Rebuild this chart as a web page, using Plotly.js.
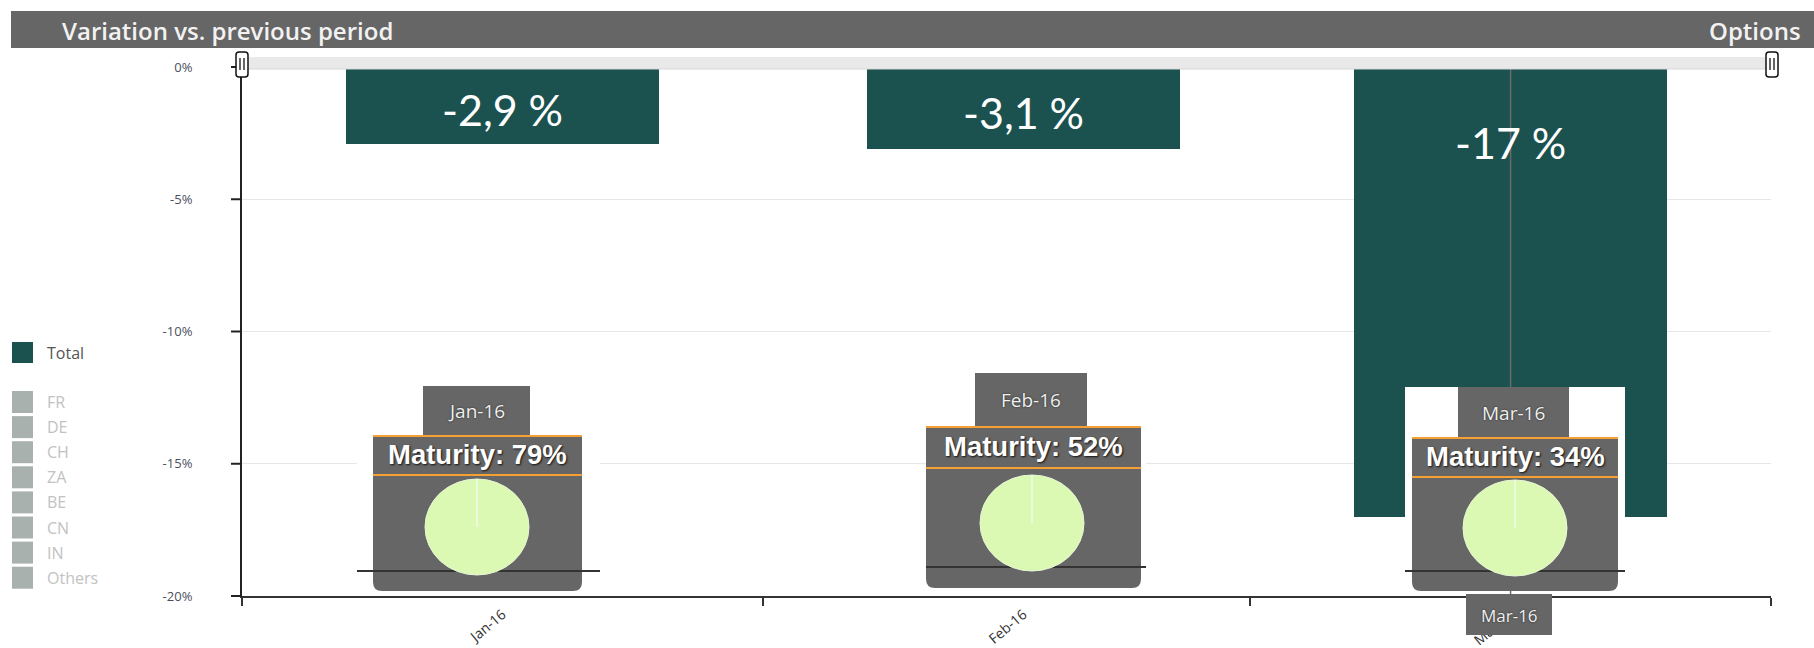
<!DOCTYPE html>
<html>
<head>
<meta charset="utf-8">
<script src="https://cdn.plot.ly/plotly-3.0.1.min.js"></script>
<style>
  html, body { margin: 0; padding: 0; background: #fff; }
  #chart { width: 1814px; height: 648px; }
</style>
</head>
<body>
<div id="chart"></div>
<script>
// chart values
var months = ['Jan-16', 'Feb-16', 'Mar-16'];
var pointDates = ['2016-01-16 12:00', '2016-02-16 12:00', '2016-03-16 12:00'];
var variation = [-2.9, -3.1, -17];
var maturity = [79, 52, 34];
var totalName = 'Total';
var countries = ['FR', 'DE', 'CH', 'ZA', 'BE', 'CN', 'IN', 'Others'];
var yTicks = [0, -5, -10, -15, -20];
var yTickText = ['0%', '-5%', '-10%', '-15%', '-20%'];
var monthStarts = ['2016-01-01', '2016-02-01', '2016-03-01', '2016-04-01'];

var DAY = 86400000;
var yRange = [-20, 0];
var teal = '#1b524f';
var gray = '#666666';
var orange = '#f5a032';

// plot box in pixels
var L = 242, T = 67, W = 1529, H = 529;
function px(x) { return (x - L) / W; }
function py(y) { return (T + H - y) / H; }
function P(x, y) { return px(x).toFixed(5) + ',' + py(y).toFixed(5); }

function rect(x0, y0, x1, y1, fill) {
    return {type: 'rect', xref: 'paper', yref: 'paper', layer: 'above',
        x0: px(x0), x1: px(x1), y0: py(y1), y1: py(y0),
        fillcolor: fill, line: {width: 0}};
}
function hline(x0, x1, y, color, w) {
    return {type: 'line', xref: 'paper', yref: 'paper', layer: 'above',
        x0: px(x0), x1: px(x1), y0: py(y), y1: py(y), line: {color: color, width: w}};
}
function vline(x, y0, y1, color, w) {
    return {type: 'line', xref: 'paper', yref: 'paper', layer: 'above',
        x0: px(x), x1: px(x), y0: py(y0), y1: py(y1), line: {color: color, width: w}};
}
// box with rounded corners (top radius rt, bottom radius rb)
function roundBox(x0, y0, x1, y1, rt, rb, fill, line) {
    var d = 'M' + P(x0 + rt, y0) + ' L' + P(x1 - rt, y0) +
        (rt ? ' Q' + P(x1, y0) + ' ' + P(x1, y0 + rt) : '') +
        ' L' + P(x1, y1 - rb) + ' Q' + P(x1, y1) + ' ' + P(x1 - rb, y1) +
        ' L' + P(x0 + rb, y1) + ' Q' + P(x0, y1) + ' ' + P(x0, y1 - rb) +
        ' L' + P(x0, y0 + rt) + (rt ? ' Q' + P(x0, y0) + ' ' + P(x0 + rt, y0) : '') + ' Z';
    return {type: 'path', xref: 'paper', yref: 'paper', layer: 'above', path: d,
        fillcolor: fill, line: line || {width: 0}};
}
function text(x, y, str, font, xanchor) {
    return {xref: 'paper', yref: 'paper', x: px(x), y: py(y), text: str, showarrow: false,
        xanchor: xanchor || 'center', yanchor: 'middle', font: font};
}

var shapes = [];
var annotations = [];

// y tick marks (left of the axis line)
yTicks.forEach(function (v) {
    var f = (v - yRange[0]) / (yRange[1] - yRange[0]);
    var yPix = T + H - f * H;
    shapes.push(hline(231, 242, yPix, '#222', 2));
});

// hover crosshair on March
shapes.push({type: 'line', xref: 'x', yref: 'paper', layer: 'above',
    x0: pointDates[2], x1: pointDates[2], y0: py(69), y1: py(600),
    line: {color: '#6a6a6a', width: 1.5}});

// navigator band and handles
shapes.push(rect(242, 57, 1771, 69, '#e9e9e9'));
shapes.push(hline(242, 1771, 69, '#d6d6d6', 1));
[242, 1772].forEach(function (hx) {
    shapes.push(roundBox(hx - 6, 52, hx + 6, 77, 3, 3, '#ffffff', {color: '#111', width: 1.5}));
    shapes.push(vline(hx - 2, 58, 70, '#111', 1.3));
    shapes.push(vline(hx + 2, 58, 70, '#111', 1.3));
});

// header bar
shapes.push(rect(11, 11, 1814, 48, gray));
annotations.push(text(60, 30, 'Variation vs. previous period',
    {family: 'Open Sans', size: 24, color: '#f2f2f2', weight: 600}, 'left'));
annotations.push(text(1803, 30, 'Options',
    {family: 'Open Sans', size: 24, color: '#f2f2f2', weight: 600}, 'right'));

// legend
shapes.push(rect(12, 342, 33, 363, teal));
annotations.push(text(45, 353, totalName, {family: 'Open Sans', size: 16, color: '#555'}, 'left'));
countries.forEach(function (c, i) {
    var top = 391 + i * 25.1;
    shapes.push(rect(12, top, 33, top + 22, '#a9b1af'));
    annotations.push(text(45, top + 11, c, {family: 'Open Sans', size: 16, color: '#c2c2c2'}, 'left'));
});

// tooltips
var tips = [
    {wx0: 357, wx1: 600, top: 386, tab0: 423, tab1: 530, box0: 373, box1: 582, boxTop: 436, sep: 475, bottom: 591, lineY: 571, cx: 477, cy: 527},
    {wx0: 926, wx1: 1146, top: 373, tab0: 975, tab1: 1087, box0: 926, box1: 1141, boxTop: 427, sep: 468, bottom: 588, lineY: 567, cx: 1032, cy: 523},
    {wx0: 1405, wx1: 1625, top: 387, tab0: 1458, tab1: 1569, box0: 1412, box1: 1618, boxTop: 438, sep: 477, bottom: 591, lineY: 571, cx: 1515, cy: 528}
];
var rx = 52, ry = 48;
tips.forEach(function (t, i) {
    shapes.push(rect(t.wx0, t.top, t.wx1, t.lineY, '#ffffff'));
    shapes.push(rect(t.tab0, t.top, t.tab1, t.boxTop, gray));
    shapes.push(roundBox(t.box0, t.boxTop, t.box1, t.bottom, 0, 9, gray));
    shapes.push(hline(t.wx0, t.wx1, t.lineY, '#333', 2));
    shapes.push({type: 'circle', xref: 'paper', yref: 'paper', layer: 'above',
        x0: px(t.cx - rx), x1: px(t.cx + rx), y0: py(t.cy + ry), y1: py(t.cy - ry),
        fillcolor: '#dcf9b4', line: {color: '#e6f7d6', width: 1}});
    shapes.push(vline(t.cx, t.cy, t.cy - ry, '#f2fbe9', 1.5));
    shapes.push(hline(t.box0, t.box1, t.boxTop, orange, 2));
    shapes.push(hline(t.box0, t.box1, t.sep, orange, 2));
    annotations.push(text((t.tab0 + t.tab1) / 2, (t.top + t.boxTop) / 2, months[i],
        {family: 'Open Sans', size: 19, color: '#f0f0f0', shadow: '0px 0px 2px #222'}));
    annotations.push(text((t.box0 + t.box1) / 2, (t.boxTop + t.sep) / 2 - 1, 'Maturity: ' + maturity[i] + '%',
        {family: 'Liberation Sans', size: 27.5, color: '#ffffff', weight: 'bold', shadow: '1px 1px 2px #111'}));
});

// crosshair label on the x axis
shapes.push(rect(1466, 594, 1552, 635, gray));
annotations.push(text(1509, 615, months[2],
    {family: 'Open Sans', size: 17, color: '#f0f0f0', shadow: '0px 0px 2px #222'}));

// value labels on bars
variation.forEach(function (v, i) {
    annotations.push({xref: 'x', yref: 'y', x: pointDates[i], y: Math.max(v / 2, -2.7),
        text: String(v).replace('.', ',') + ' %', showarrow: false, yshift: -4,
        xanchor: 'center', yanchor: 'middle',
        font: {family: 'Lato', size: 43, color: '#ffffff'}});
});

var traceTotal = {
    type: 'bar',
    name: totalName,
    x: pointDates,
    y: variation,
    width: 18.64 * DAY,
    marker: {color: teal, line: {width: 0}},
    hoverinfo: 'none',
    showlegend: false
};

var layout = {
    width: 1814,
    height: 648,
    margin: {l: L, r: 1814 - L - W, t: T, b: 648 - T - H},
    paper_bgcolor: '#ffffff',
    plot_bgcolor: '#ffffff',
    showlegend: false,
    hovermode: false,
    bargap: 0,
    xaxis: {
        type: 'date',
        range: [monthStarts[0], monthStarts[3]],
        tickmode: 'array',
        tickvals: pointDates,
        ticktext: months,
        tickangle: -40,
        ticks: 'outside',
        ticklen: 3,
        tickcolor: 'rgba(0,0,0,0)',
        minor: {tickmode: 'array', tickvals: monthStarts, ticks: 'outside', ticklen: 8,
            tickwidth: 1.5, tickcolor: '#333', showgrid: false},
        showline: true,
        linecolor: '#333',
        linewidth: 2,
        showgrid: false,
        zeroline: false,
        tickfont: {family: 'Open Sans', size: 14, color: '#333'},
        fixedrange: true
    },
    yaxis: {
        range: yRange,
        tickmode: 'array',
        tickvals: yTicks,
        ticktext: yTickText,
        ticks: 'outside',
        ticklen: 9,
        tickcolor: '#333',
        ticklabelstandoff: 36,
        showline: true,
        linecolor: '#222',
        linewidth: 2,
        showgrid: true,
        gridcolor: '#e6e6e6',
        zeroline: false,
        tickfont: {family: 'Open Sans', size: 13, color: '#4b4f5c'},
        fixedrange: true
    },
    shapes: shapes,
    annotations: annotations
};

Plotly.newPlot('chart', [traceTotal], layout, {displayModeBar: false, staticPlot: true});
</script>
</body>
</html>
